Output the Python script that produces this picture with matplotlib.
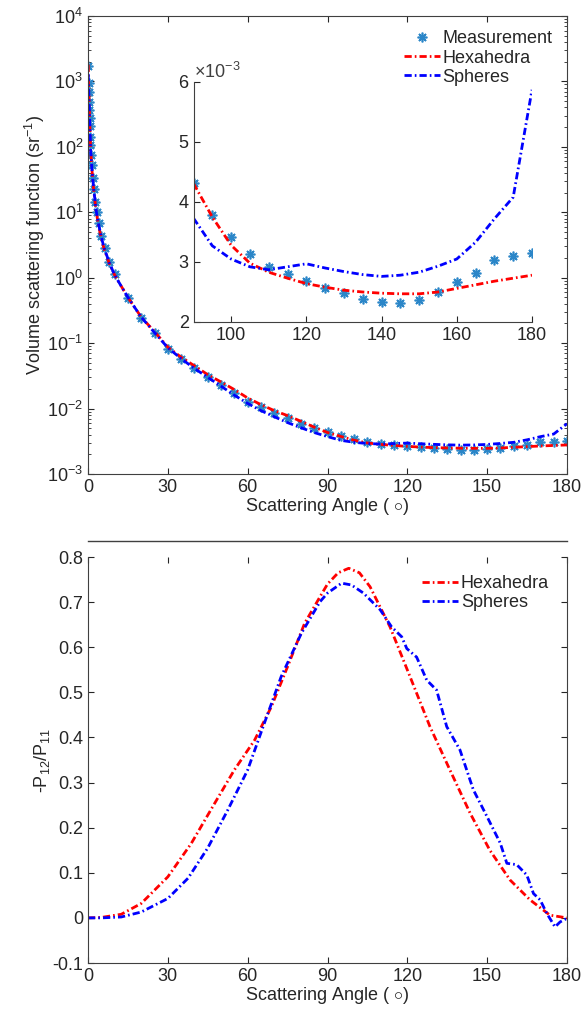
import matplotlib
matplotlib.use("Agg")
import matplotlib.pyplot as plt
from matplotlib.ticker import FuncFormatter, LogLocator, NullFormatter
from matplotlib.lines import Line2D

plt.rcParams['font.family'] = ['Liberation Sans', 'DejaVu Sans']
plt.rcParams['mathtext.fontset'] = 'custom'
plt.rcParams['mathtext.rm'] = 'Liberation Sans'
plt.rcParams['mathtext.it'] = 'Liberation Sans'

# ---- volume scattering function data ----
meas_angle = [0.1, 0.2, 0.3, 0.4, 0.5, 0.6, 0.7, 0.8, 0.9, 1.1, 1.4, 1.7, 2.2, 2.7, 3.4,
              4.1, 4.9, 6.3, 8, 10, 15, 20, 25, 30, 35, 40, 45, 50, 55, 60, 65, 70, 75,
              80, 85, 90, 95, 100, 105, 110, 115, 120, 125, 130, 135, 140, 145, 150,
              155, 160, 165, 170, 175, 180]
meas_vsf = [1700, 940, 690, 490, 365, 272, 205, 142, 107, 75, 52, 33, 23, 14.6, 10.2,
            6.8, 4.3, 2.8, 1.74, 1.15, 0.49, 0.24, 0.145, 0.082, 0.057, 0.041, 0.030,
            0.023, 0.017, 0.0128, 0.0104, 0.0087, 0.0071, 0.0058, 0.0050,
            4.31e-3, 3.79e-3, 3.42e-3, 3.13e-3, 2.92e-3, 2.80e-3, 2.69e-3, 2.57e-3,
            2.48e-3, 2.38e-3, 2.33e-3, 2.31e-3, 2.37e-3, 2.50e-3, 2.66e-3, 2.82e-3,
            3.03e-3, 3.10e-3, 3.15e-3]

model_angle = [0.1, 0.2, 0.3, 0.5, 0.7, 1.0, 1.5, 2, 3, 4, 5, 6, 8, 10, 15, 20, 25, 30,
               35, 40, 45, 50, 55, 60, 65, 70, 75, 80, 85, 90, 95, 100, 105, 110, 115,
               120, 125, 130, 135, 140, 145, 150, 155, 160, 165, 170, 175, 180]
hexa_vsf = [1800, 1000, 700, 380, 210, 88, 44, 25, 10.8, 6.1, 4.0, 2.8, 1.65, 1.1, 0.50,
            0.25, 0.150, 0.087, 0.061, 0.045, 0.033, 0.0255, 0.0195, 0.0145, 0.0115,
            0.0093, 0.0078, 0.0064, 0.0052,
            4.31e-3, 3.75e-3, 3.28e-3, 2.98e-3, 2.83e-3, 2.73e-3, 2.64e-3, 2.58e-3,
            2.53e-3, 2.50e-3, 2.48e-3, 2.47e-3, 2.47e-3, 2.50e-3, 2.56e-3, 2.62e-3,
            2.68e-3, 2.73e-3, 2.78e-3]
sph_vsf = [1300, 900, 680, 370, 210, 90, 44, 26, 11, 6.5, 4.2, 2.9, 1.7, 1.1, 0.50,
           0.25, 0.145, 0.085, 0.058, 0.041, 0.030, 0.022, 0.016, 0.012, 0.0093,
           0.0075, 0.0061, 0.0051, 0.0043,
           3.73e-3, 3.27e-3, 3.05e-3, 2.92e-3, 2.87e-3, 2.92e-3, 2.97e-3, 2.90e-3,
           2.84e-3, 2.79e-3, 2.76e-3, 2.78e-3, 2.83e-3, 2.93e-3, 3.05e-3, 3.33e-3,
           3.72e-3, 4.08e-3, 5.87e-3]

# ---- degree of linear polarization data ----
hexa_p_angle = [0, 5, 12.5, 20, 30, 38.8, 47.6, 55, 62.6, 68.9, 75, 81.4, 87.2, 90, 94,
                98, 102, 106, 113.5, 121, 128.5, 136, 143.6, 151, 158.6, 166.1, 173.6, 180]
hexa_p = [0, 0.001, 0.008, 0.032, 0.091, 0.165, 0.254, 0.328, 0.394, 0.468, 0.557, 0.653,
          0.712, 0.74, 0.765, 0.775, 0.765, 0.734, 0.645, 0.535, 0.424, 0.328, 0.232,
          0.150, 0.084, 0.040, 0.006, 0.0]
sph_p_angle = [0, 5, 12.5, 20, 30, 37.6, 45, 52.6, 60, 66.3, 72.6, 80.2, 87.2, 90, 95.3,
               99, 103.5, 109.8, 114.1, 117.9, 119.8, 123.5, 127.3, 131, 134.8, 139.8,
               144.8, 149.9, 154.9, 157.4, 161.1, 164.9, 167.4, 169.9, 172.4, 175.5,
               177.4, 180]
sph_p = [0, 0.0, 0.002, 0.013, 0.043, 0.088, 0.155, 0.240, 0.328, 0.432, 0.535, 0.631,
         0.701, 0.72, 0.742, 0.738, 0.720, 0.683, 0.645, 0.623, 0.597, 0.578, 0.527,
         0.505, 0.424, 0.372, 0.284, 0.225, 0.166, 0.121, 0.118, 0.095, 0.054, 0.040,
         0.010, -0.020, -0.009, -0.001]

red = '#ff0000'
blue = '#0000ff'
star = '#2b86c8'
txt = '#262626'
dashdot = (0, (2.6, 1.1, 0.6, 1.1))
ast = (8, 2, 0)
fs = 13

plt.rcParams['text.color'] = txt
plt.rcParams['axes.labelcolor'] = txt
plt.rcParams['xtick.color'] = txt
plt.rcParams['ytick.color'] = txt
plt.rcParams['axes.edgecolor'] = '#404040'
plt.rcParams['xtick.direction'] = 'in'
plt.rcParams['ytick.direction'] = 'in'
plt.rcParams['font.size'] = fs

fig = plt.figure(figsize=(5.84, 10.17), dpi=100)
W, H = 584.0, 1017.0

def box(l, t, r, b):
    return [l / W, (H - b) / H, (r - l) / W, (b - t) / H]

xlab = 'Scattering Angle ( $\\circ$)'

# top panel
ax1 = fig.add_axes(box(88, 16, 567, 474))
ax1.plot(meas_angle, meas_vsf, linestyle='none', marker=ast, ms=7, mew=1.2,
         color=star, label='Measurement')
ax1.plot(model_angle, hexa_vsf, color=red, lw=2, linestyle=dashdot, label='Hexahedra')
ax1.plot(model_angle, sph_vsf, color=blue, lw=2, linestyle=dashdot, label='Spheres')
ax1.set_yscale('log')
ax1.set_xlim(0, 180)
ax1.set_ylim(1e-3, 1e4)
ax1.set_xticks(range(0, 181, 30))
ax1.yaxis.set_major_locator(LogLocator(base=10, numticks=20))
ax1.yaxis.set_minor_locator(LogLocator(base=10, subs=range(2, 10), numticks=20))
ax1.yaxis.set_minor_formatter(NullFormatter())
ax1.tick_params(which='both', top=True, right=True, labelsize=fs)
ax1.tick_params(which='major', length=4, width=0.8)
ax1.tick_params(which='minor', length=2, width=0.6)
ax1.set_xlabel(xlab, fontsize=fs, labelpad=0)
ax1.set_ylabel('Volume scattering function (sr$^{-1}$)', fontsize=fs, labelpad=0)
ax1.legend(loc='upper right', frameon=False, fontsize=fs, handlelength=2.0,
           handletextpad=0.15, labelspacing=0.12, borderaxespad=0.4)

# inset
ins = fig.add_axes(box(193.5, 82, 532, 322))
sel = [i for i, a in enumerate(meas_angle) if a >= 90]
ins.plot([meas_angle[i] for i in sel], [meas_vsf[i] for i in sel], linestyle='none',
         marker=ast, ms=7, mew=1.2, color=star)
sel = [i for i, a in enumerate(model_angle) if a >= 90]
ins.plot([model_angle[i] for i in sel], [hexa_vsf[i] for i in sel], color=red, lw=2,
         linestyle=dashdot)
ins.plot([model_angle[i] for i in sel], [sph_vsf[i] for i in sel], color=blue, lw=2,
         linestyle=dashdot)
ins.set_xlim(90, 180)
ins.set_ylim(2e-3, 6e-3)
ins.set_xticks([100, 120, 140, 160, 180])
ins.set_yticks([2e-3, 3e-3, 4e-3, 5e-3, 6e-3])
ins.yaxis.set_major_formatter(FuncFormatter(lambda v, p: '%g' % round(v * 1e3, 6)))
ins.spines['top'].set_visible(False)
ins.spines['right'].set_visible(False)
ins.tick_params(labelsize=fs, length=4, width=0.8)
ins.patch.set_alpha(0)
ins.text(0.0, 1.0, '$\\times$10$^{-3}$', transform=ins.transAxes, fontsize=fs,
         ha='left', va='bottom', color='#404040')

# bottom panel
ax2 = fig.add_axes(box(88, 557, 567, 963))
ax2.plot(hexa_p_angle, hexa_p, color=red, lw=2, linestyle=dashdot, label='Hexahedra')
ax2.plot(sph_p_angle, sph_p, color=blue, lw=2, linestyle=dashdot, label='Spheres')
ax2.set_xlim(0, 180)
ax2.set_ylim(-0.1, 0.8)
ax2.set_xticks(range(0, 181, 30))
ax2.set_yticks([-0.1, 0, 0.1, 0.2, 0.3, 0.4, 0.5, 0.6, 0.7, 0.8])
ax2.yaxis.set_major_formatter(FuncFormatter(lambda v, p: '%g' % round(v, 6)))
ax2.spines['top'].set_visible(False)
ax2.tick_params(top=True, right=True, labelsize=fs, length=4, width=0.8)
ax2.set_xlabel(xlab, fontsize=fs, labelpad=0)
ax2.set_ylabel('-P$_{12}$/P$_{11}$', fontsize=fs, labelpad=0)
ax2.legend(loc='upper right', frameon=False, fontsize=fs, handlelength=2.0,
           handletextpad=0.15, labelspacing=0.12, borderaxespad=0.6)

# separator line above the lower panel
fig.add_artist(Line2D([88 / W, 567 / W], [(H - 541) / H, (H - 541) / H],
                      color='#404040', lw=1))

fig.savefig('out.png', dpi=100)
